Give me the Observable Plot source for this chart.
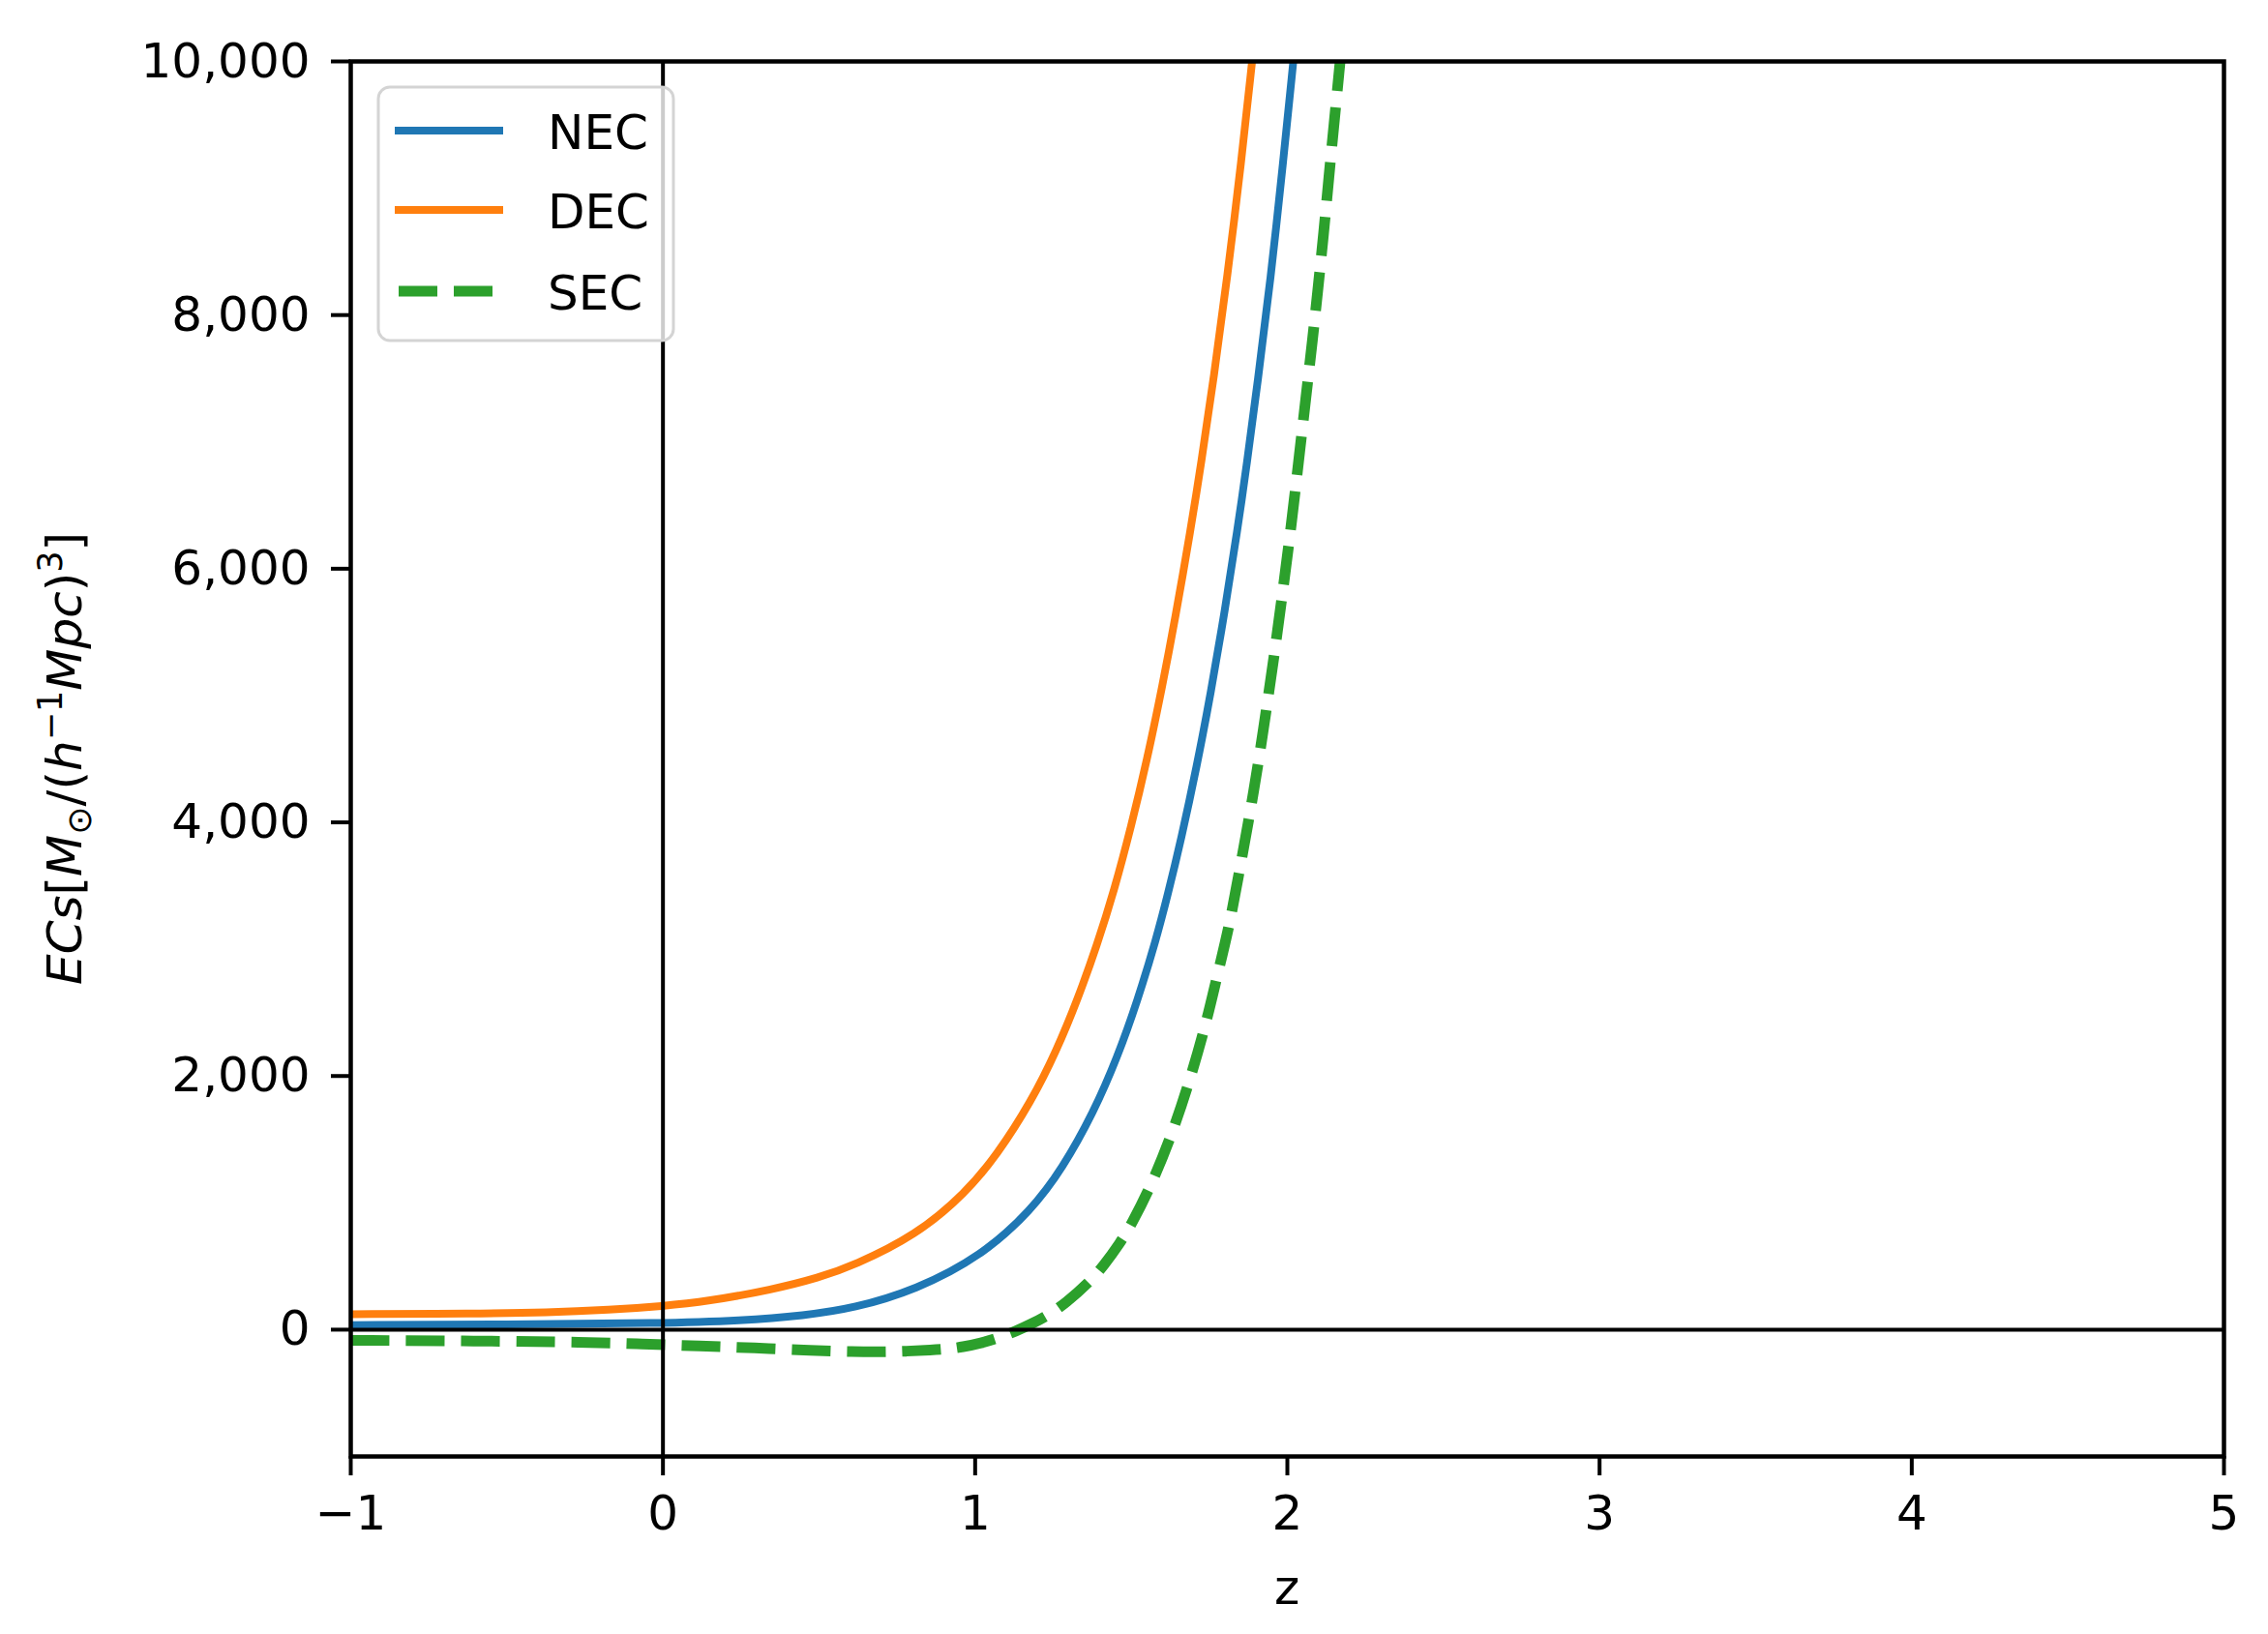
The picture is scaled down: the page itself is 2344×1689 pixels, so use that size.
<!DOCTYPE html>
<html>
<head>
<meta charset="utf-8">
<script src="https://cdn.jsdelivr.net/npm/d3@7"></script>
<script src="https://cdn.jsdelivr.net/npm/@observablehq/plot@0.6"></script>
<style>
  html, body { margin: 0; padding: 0; background: white; overflow: hidden; }
  #chart { position: relative; width: 2344px; height: 1689px; }
  #legend { position: absolute; left: 0; top: 0; }
</style>
</head>
<body>
<div id="chart"></div>
<script>
// ---- data ----
const seriesNames = ["NEC", "DEC", "SEC"];
const seriesColors = ["#1f77b4", "#ff7f0e", "#2ca02c"];

const zNEC = [-1, -0.5, 0, 0.25, 0.455, 0.61, 0.81, 1.02, 1.18, 1.28, 1.38, 1.455, 1.52, 1.58, 1.615, 1.66, 1.71, 1.755, 1.80, 1.84, 1.87, 1.905, 1.946, 1.988, 2.019];
const vNEC = [36, 40, 50, 71, 112, 168, 313, 580, 941, 1273, 1717, 2144, 2593, 3080, 3410, 3868, 4443, 5022, 5674, 6305, 6820, 7475, 8273, 9240, 10000];

const zDEC = [-1, -0.6, -0.37, -0.17, 0, 0.14, 0.35, 0.5, 0.61, 0.81, 0.97, 1.07, 1.18, 1.26, 1.33, 1.39, 1.445, 1.5, 1.55, 1.6, 1.64, 1.69, 1.724, 1.765, 1.807, 1.853, 1.887];
const vDEC = [122, 126, 134, 156, 186, 222, 315, 410, 505, 742, 1079, 1377, 1800, 2195, 2615, 3030, 3460, 3970, 4485, 5079, 5597, 6304, 6832, 7517, 8289, 9218, 10000];

const zSEC = [-1, -0.6, -0.24, -0.07, 0.12, 0.29, 0.48, 0.61, 0.7, 0.78, 0.86, 0.91, 0.96, 1.02, 1.07, 1.135, 1.18, 1.23, 1.29, 1.37, 1.41, 1.465, 1.50, 1.563, 1.631, 1.687, 1.74, 1.776, 1.812, 1.843, 1.874, 1.905, 1.931, 1.957, 1.982, 2.013, 2.039, 2.06, 2.081, 2.096, 2.117, 2.133, 2.148, 2.169];
const vSEC = [-84, -89, -99, -112, -130, -143, -165, -174, -176, -170, -161, -153, -137, -105, -68, -8, 45, 108, 208, 386, 499, 686, 827, 1131, 1543, 1961, 2415, 2800, 3158, 3570, 3984, 4434, 4862, 5300, 5759, 6348, 6913, 7362, 7815, 8160, 8660, 9090, 9470, 10000];

const xTicks = [-1, 0, 1, 2, 3, 4, 5];
const yTicks = [0, 2000, 4000, 6000, 8000, 10000];
const xLabel = "z";

// ---- build table ----
const toRows = (name, zs, vs) => zs.map((z, i) => ({series: name, z, v: vs[i]}));
const rowsNEC = toRows("NEC", zNEC, vNEC);
const rowsDEC = toRows("DEC", zDEC, vDEC);
const rowsSEC = toRows("SEC", zSEC, vSEC);

const W = 2344, H = 1689;
const mL = 362, mR = 46, mT = 63, mB = 184;
const FONT = "'DejaVu Sans', sans-serif";
const LW = 8, LWD = 11, DASH = "40,17";

const plot = Plot.plot({
  width: W, height: H,
  marginLeft: mL, marginRight: mR, marginTop: mT, marginBottom: mB,
  style: {fontFamily: FONT, fontSize: "50px", background: "white", color: "black", overflow: "visible"},
  x: {domain: [-1, 5]},
  y: {domain: [-1000, 10000]},
  marks: [
    Plot.line(rowsNEC, {x: "z", y: "v", stroke: seriesColors[0], strokeWidth: LW, curve: "basis", clip: true}),
    Plot.line(rowsDEC, {x: "z", y: "v", stroke: seriesColors[1], strokeWidth: LW, curve: "basis", clip: true}),
    Plot.line(rowsSEC, {x: "z", y: "v", stroke: seriesColors[2], strokeWidth: LWD, strokeDasharray: DASH, strokeLinecap: "butt", curve: "basis", clip: true}),
    Plot.ruleY([0], {stroke: "black", strokeWidth: 4}),
    Plot.ruleX([0], {stroke: "black", strokeWidth: 4}),
    Plot.axisX({ticks: xTicks, tickSize: 20, tickPadding: 20, strokeWidth: 4, fontSize: 50, label: null, tickFormat: d3.format("d")}),
    Plot.axisY({ticks: yTicks, tickSize: 20, tickPadding: 22, strokeWidth: 4, fontSize: 50, label: null, tickFormat: d3.format(",d")}),
    Plot.frame({stroke: "black", strokeWidth: 4.5})
  ]
});

const svg = d3.select(plot);
// x label
svg.append("text")
  .attr("x", mL + (W - mL - mR) / 2)
  .attr("y", 1658)
  .attr("text-anchor", "middle")
  .attr("font-family", FONT)
  .attr("font-size", 50)
  .attr("fill", "black")
  .text(xLabel);

// y label (mathtext-like)
const yl = svg.append("text")
  .attr("transform", `translate(84, ${mT + (H - mT - mB) / 2}) rotate(-90)`)
  .attr("text-anchor", "middle")
  .attr("font-family", FONT)
  .attr("font-size", 50)
  .attr("fill", "black");
const parts = [
  {t: "ECs", it: true},
  {t: "[", it: false},
  {t: "M", it: true},
  {t: "\u2299", it: false, size: 35, dy: 10},
  {t: "/(", it: false, dy: -10},
  {t: "h", it: true},
  {t: "\u22121", it: false, size: 35, dy: -20},
  {t: "Mpc", it: true, dy: 20},
  {t: ")", it: false},
  {t: "3", it: false, size: 35, dy: -20},
  {t: "]", it: false, dy: 20}
];
parts.forEach(p => {
  const ts = yl.append("tspan").text(p.t);
  if (p.it) ts.attr("font-style", "italic");
  if (p.size) ts.attr("font-size", p.size);
  if (p.dy) ts.attr("dy", p.dy);
});

const chart = document.getElementById("chart");
chart.appendChild(plot);

// legend overlay
const lg = d3.select(chart).append("svg")
  .attr("id", "legend")
  .attr("width", W).attr("height", H)
  .style("pointer-events", "none");
lg.append("rect")
  .attr("x", 391).attr("y", 90).attr("width", 305).attr("height", 262)
  .attr("rx", 12).attr("ry", 12)
  .attr("fill", "white").attr("fill-opacity", 0.8)
  .attr("stroke", "#d4d4d4").attr("stroke-width", 3);
const legendY = [135, 217, 301];
seriesNames.forEach((name, i) => {
  const ln = lg.append("line")
    .attr("x1", 408).attr("x2", 520)
    .attr("y1", legendY[i]).attr("y2", legendY[i])
    .attr("stroke", seriesColors[i])
    .attr("stroke-width", i === 2 ? LWD : LW);
  if (i === 2) ln.attr("stroke-dasharray", DASH).attr("x1", 412);
  lg.append("text")
    .attr("x", 566).attr("y", legendY[i] + 19)
    .attr("font-family", FONT).attr("font-size", 50).attr("fill", "black")
    .text(name);
});
</script>
</body>
</html>
